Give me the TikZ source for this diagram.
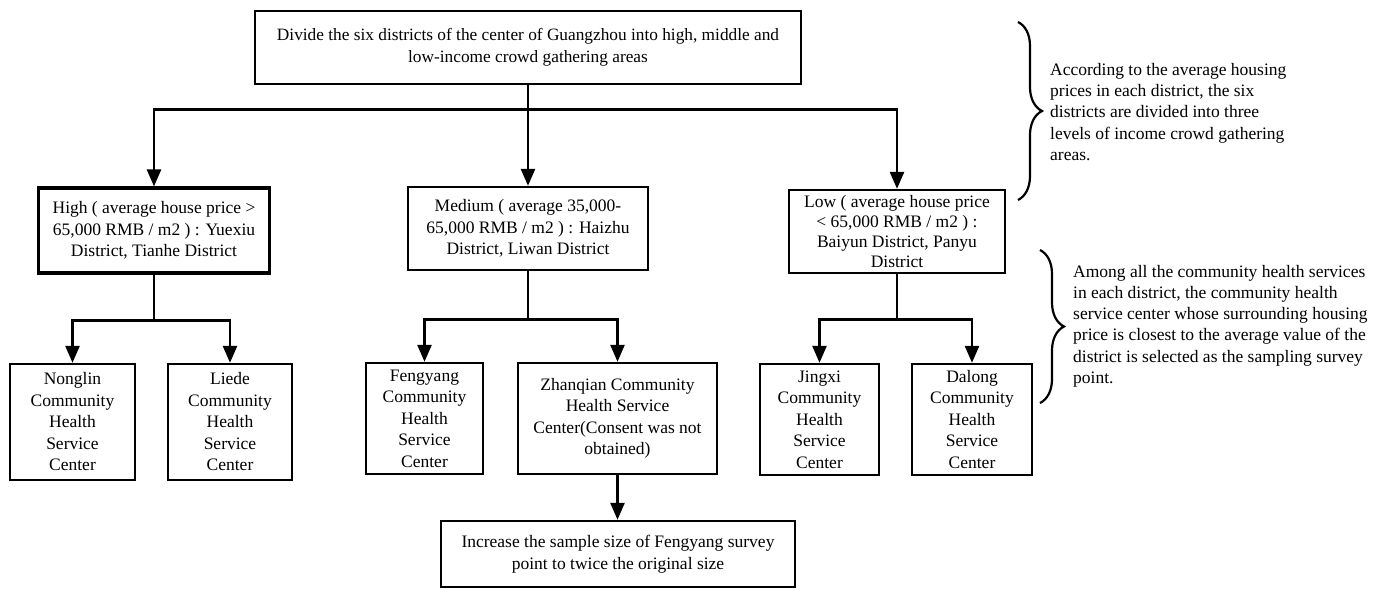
\documentclass[tikz,border=0pt]{standalone}
\usepackage{fontspec}
\setmainfont{Liberation Serif}
\usetikzlibrary{arrows.meta,decorations.pathreplacing,calc}
\begin{document}
\begin{tikzpicture}[x=1pt,y=-1pt,
  box/.style={draw, line width=2.4pt, align=center, inner sep=1pt, font=\fontsize{17.5}{21.5}\selectfont},
  conn/.style={line width=2.6pt},
  arr/.style={conn, -{Triangle[length=17pt,width=14pt]}},
  note/.style={align=left, inner sep=0pt, anchor=west, font=\fontsize{17.5}{21.2}\selectfont},
  bracestyle/.style={line width=2.2pt, decorate, decoration={brace, amplitude=24pt, aspect=0.5}}]
\useasboundingbox (0,0) rectangle (1379,589);
% level 0
\node[box, minimum width=546pt, minimum height=73pt, font=\fontsize{17.3}{21.5}\selectfont] (top) at (528,47.5)
  {Divide the six districts of the center of Guangzhou into high, middle and\\low-income crowd gathering areas};
% level 1
\node[box, line width=3.2pt, minimum width=231pt, minimum height=85pt] (high) at (154,230.5)
  {High ( average house price >\\65,000 RMB / m2 ) : Yuexiu\\District, Tianhe District};
\node[box, minimum width=240pt, minimum height=83pt] (med) at (528,228.5)
  {Medium ( average 35,000-\\65,000 RMB / m2 ) : Haizhu\\District, Liwan District};
\node[box, minimum width=216pt, minimum height=83pt, font=\fontsize{17.5}{20}\selectfont] (low) at (897,231.5)
  {Low ( average house price\\< 65,000 RMB / m2 ) :\\Baiyun District, Panyu\\District};
% level 2
\node[box, minimum width=125pt, minimum height=116pt] (nong) at (72.5,422)
  {Nonglin\\Community\\Health\\Service\\Center};
\node[box, minimum width=124pt, minimum height=116pt] (liede) at (230,422)
  {Liede\\Community\\Health\\Service\\Center};
\node[box, minimum width=117pt, minimum height=111pt] (feng) at (424.5,418.5)
  {Fengyang\\Community\\Health\\Service\\Center};
\node[box, minimum width=199pt, minimum height=111pt] (zhan) at (617.5,418.5)
  {Zhanqian Community\\Health Service\\Center(Consent was not\\obtained)};
\node[box, minimum width=119pt, minimum height=111pt] (jing) at (819.5,419.5)
  {Jingxi\\Community\\Health\\Service\\Center};
\node[box, minimum width=120pt, minimum height=111pt] (dal) at (972,419.5)
  {Dalong\\Community\\Health\\Service\\Center};
% level 3
\node[box, minimum width=354pt, minimum height=66pt] (incr) at (618,554)
  {Increase the sample size of Fengyang survey\\point to twice the original size};
% connectors
\path (top.south) ++(0,24) coordinate (j0);
\draw[conn] (top.south) -- (j0);
\draw[arr] (j0) -| (high.north);
\draw[arr] (j0) -- (med.north);
\draw[arr] (j0) -| (low.north);
\path (high.south) ++(0,46) coordinate (j1);
\draw[conn] (high.south) -- (j1);
\draw[arr] (j1) -| (nong.north);
\draw[arr] (j1) -| (liede.north);
\path (med.south) ++(0,48) coordinate (j2);
\draw[conn] (med.south) -- (j2);
\draw[arr] (j2) -| (feng.north);
\draw[arr] (j2) -| (zhan.north);
\path (low.south) ++(0,45) coordinate (j3);
\draw[conn] (low.south) -- (j3);
\draw[arr] (j3) -| (jing.north);
\draw[arr] (j3) -| (dal.north);
\draw[arr] (zhan.south) -- (zhan.south |- incr.north);
% braces and notes
\coordinate (b1a) at (1018,22);
\coordinate (b1b) at (1018,200);
\draw[bracestyle] (b1a) -- (b1b);
\node[note] (n1) at (1050,112)
  {According to the average housing\\prices in each district, the six\\districts are divided into three\\levels of income crowd gathering\\areas.};
\coordinate (b2a) at (1040,250);
\coordinate (b2b) at (1040,403);
\draw[bracestyle] (b2a) -- (b2b);
\node[note] (n2) at (1073,326)
  {Among all the community health services\\in each district, the community health\\service center whose surrounding housing\\price is closest to the average value of the\\district is selected as the sampling survey\\point.};
\end{tikzpicture}
\end{document}
